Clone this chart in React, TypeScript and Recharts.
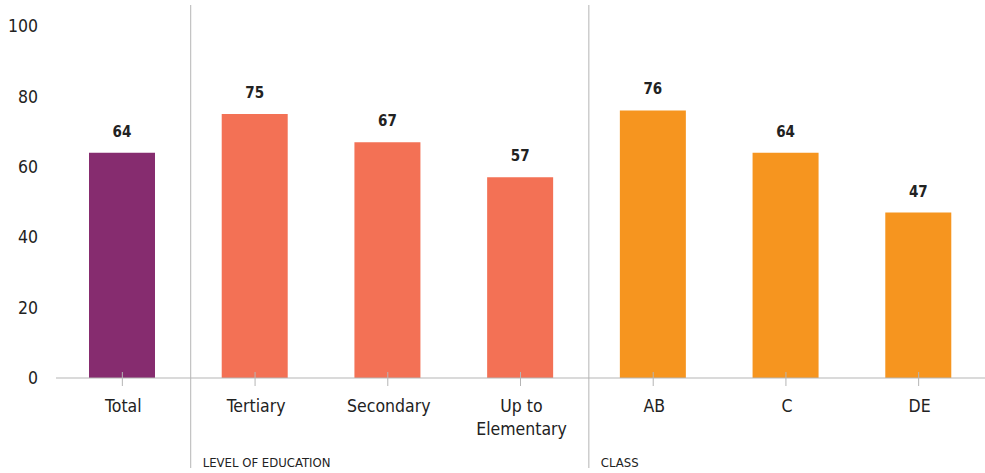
import React from "react";
import { BarChart, Bar, XAxis, YAxis, Cell, LabelList } from "recharts";

const categories = ["Total", "Tertiary", "Secondary", "Up to\nElementary", "AB", "C", "DE"];
const values = [64, 75, 67, 57, 76, 64, 47];
const groupOf = [0, 1, 1, 1, 2, 2, 2];
const groupColors = ["#862C6F", "#F37155", "#F6951F"];
const groupLabels = ["", "LEVEL OF EDUCATION", "CLASS"];
const yTicks = [0, 20, 40, 60, 80, 100];

const data = categories.map((c, i) => ({ name: c, value: values[i], group: groupOf[i] }));

const FONT = "'Liberation Sans Narrow', 'DejaVu Sans Condensed', 'Roboto', sans-serif";
const TEXT = "#222";
const GRID = "#b5b5b5";

const XTick = (props: any) => {
  const { x, y, payload, index } = props;
  const lines = String(payload.value).split("\n");
  const half = payload.offset ?? 0;
  const startsGroup = index > 0 && groupOf[index] !== groupOf[index - 1];
  return (
    <g>
      <line x1={x} x2={x} y1={y - 6} y2={y + 8} stroke={GRID} strokeWidth={1} />
      {startsGroup && (
        <g>
          <line x1={x - half + 2} x2={x - half + 2} y1={y - 373} y2={y + 90} stroke={GRID} strokeWidth={1} />
          <text x={x - half + 14} y={y + 89} fill={TEXT} fontSize={13} fontFamily={FONT} textAnchor="start">
            {groupLabels[groupOf[index]]}
          </text>
        </g>
      )}
      {lines.map((l, i) => (
        <text key={i} x={x + 1} y={y + 34 + i * 23} fill={TEXT} fontSize={17.5} fontFamily={FONT} textAnchor="middle">
          {l}
        </text>
      ))}
    </g>
  );
};

export default function App() {
  return (
    <div style={{ position: "absolute", left: 0, top: 0, background: "#fff" }}>
      <BarChart
        width={985}
        height={473}
        data={data}
        margin={{ top: 26, right: 0, bottom: 0, left: 0 }}
        barSize={66}
      >
        <YAxis
          domain={[0, 100]}
          ticks={yTicks}
          width={56}
          axisLine={false}
          tickLine={false}
          tickSize={0}
          tickMargin={18}
          tick={{ fill: TEXT, fontSize: 17.5, fontFamily: FONT }}
        />
        <XAxis
          dataKey="name"
          height={95}
          interval={0}
          axisLine={{ stroke: GRID, strokeWidth: 1 }}
          tickLine={false}
          tickSize={0}
          tickMargin={0}
          tick={<XTick />}
        />
        <Bar dataKey="value" isAnimationActive={false}>
          {data.map((d, i) => (
            <Cell key={i} fill={groupColors[d.group]} />
          ))}
          <LabelList
            dataKey="value"
            position="top"
            offset={16}
            fill={TEXT}
            fontSize={15}
            fontWeight="bold"
            fontFamily={FONT}
          />
        </Bar>
      </BarChart>
    </div>
  );
}
